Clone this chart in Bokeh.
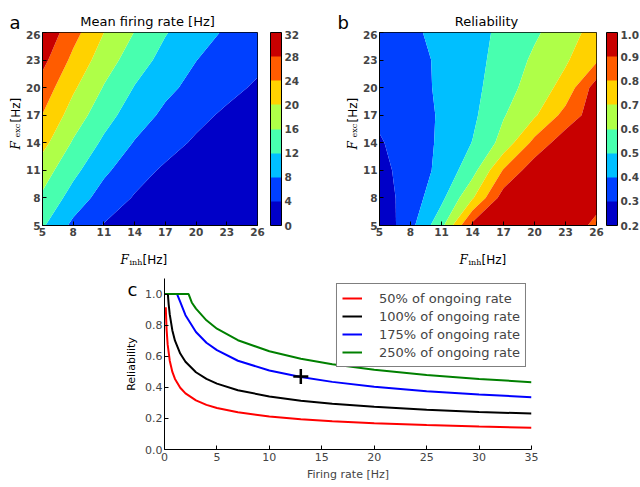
import numpy as np
from bokeh.plotting import figure
from bokeh.models import (ColorBar, LinearColorMapper, FixedTicker, PrintfTickFormatter,
                          Range1d)
from bokeh.core.properties import value
from bokeh.layouts import column, row
from bokeh.embed import file_html
from bokeh.resources import INLINE

# ---------------- data ----------------
f_inh = [5, 8, 11, 14, 17, 20, 23, 26]
f_exc = [5, 8, 11, 14, 17, 20, 23, 26]
grid_ticks = [5, 8, 11, 14, 17, 20, 23, 26]

rate_levels = [0, 4, 8, 12, 16, 20, 24, 28, 32]
rel_levels = [0.2, 0.3, 0.4, 0.5, 0.6, 0.7, 0.8, 0.9, 1.0]

jet8 = ["#0000C8", "#0040FF", "#00BFFF", "#48FFAF",
        "#AFFF48", "#FFD200", "#FF5C00", "#C80000"]

# rows: F_exc = 5 .. 26 ; columns: F_inh = 5 .. 26
rate_z = [
    [12.53, 7.03, 3.77, 2.91, 2.06, 1.20, 0.60, 0.20],
    [15.35, 10.33, 6.24, 3.69, 2.77, 1.85, 0.92, 0.30],
    [17.86, 13.08, 8.78, 5.52, 3.40, 2.20, 1.00, 0.30],
    [21.24, 15.57, 11.27, 7.76, 5.41, 3.47, 2.13, 0.80],
    [23.90, 18.20, 13.55, 9.95, 7.16, 5.05, 3.33, 2.00],
    [26.26, 20.60, 15.73, 11.80, 8.91, 6.82, 5.09, 3.45],
    [29.16, 23.00, 18.00, 13.90, 10.69, 8.06, 6.48, 4.93],
    [31.40, 25.40, 20.00, 15.88, 12.24, 9.76, 7.47, 5.47],
]

rel_z = [
    [0.22, 0.37, 0.571, 0.93, 0.97, 0.97, 0.95, 0.88],
    [0.25, 0.346, 0.476, 0.69, 0.95, 0.98, 0.98, 0.93],
    [0.27, 0.344, 0.426, 0.562, 0.808, 0.96, 0.98, 0.97],
    [0.29, 0.352, 0.415, 0.503, 0.635, 0.83, 0.96, 0.98],
    [0.32, 0.36, 0.41, 0.48, 0.593, 0.687, 0.835, 0.96],
    [0.33, 0.37, 0.413, 0.472, 0.558, 0.646, 0.734, 0.95],
    [0.33, 0.37, 0.415, 0.469, 0.536, 0.618, 0.688, 0.784],
    [0.33, 0.38, 0.43, 0.47, 0.52, 0.585, 0.656, 0.74],
]

# panel c curves: firing rate [Hz] vs reliability
red_x = [0.12, 0.2, 0.3, 0.5, 0.75, 1, 1.5, 2, 3, 4, 5, 7, 10, 13, 16, 20, 25, 30, 35]
red_y = [0.915, 0.772, 0.676, 0.571, 0.499, 0.454, 0.397, 0.361, 0.316, 0.287, 0.267,
         0.239, 0.212, 0.195, 0.182, 0.169, 0.157, 0.148, 0.140]

black_x = [0, 0.32, 0.4, 0.5, 0.75, 1, 1.5, 2, 3, 4, 5, 7, 10, 13, 16, 20, 25, 30, 35]
black_y = [1.0, 1.0, 0.932, 0.869, 0.766, 0.700, 0.617, 0.564, 0.497, 0.454, 0.424,
           0.381, 0.341, 0.314, 0.295, 0.275, 0.256, 0.242, 0.231]

blue_x = [0, 1.2, 1.5, 2, 3, 4, 5, 7, 10, 13, 16, 20, 25, 30, 35]
blue_y = [1.0, 1.0, 0.950, 0.864, 0.756, 0.687, 0.639, 0.571, 0.508, 0.466, 0.435,
          0.404, 0.375, 0.354, 0.336]

green_x = [0, 2.3, 2.6, 3, 4, 5, 7, 10, 13, 16, 20, 25, 30, 35]
green_y = [1.0, 1.0, 0.946, 0.906, 0.831, 0.777, 0.703, 0.632, 0.584, 0.548, 0.513,
           0.480, 0.454, 0.433]

series_labels = ["50% of ongoing rate", "100% of ongoing rate",
                 "175% of ongoing rate", "250% of ongoing rate"]
series_colors = ["#FF0000", "#000000", "#0000FF", "#008000"]

marker_x = [13.0]
marker_y = [0.47]

rate_x_ticks = [0, 5, 10, 15, 20, 25, 30, 35]
rel_y_ticks = [0.0, 0.2, 0.4, 0.6, 0.8, 1.0]

SANS = "DejaVu Sans"
SERIF = "DejaVu Serif"
LETTER = "DejaVu Sans"


# ---------------- helpers ----------------
def text_strip(w, h):
    """A bare figure whose frame is the whole canvas, used to hold texts."""
    p = figure(width=w, height=h, x_range=Range1d(0, w), y_range=Range1d(h, 0),
               x_axis_type=None, y_axis_type=None, output_backend="svg",
               toolbar_location=None, title=None, min_border=0,
               min_border_left=0, min_border_right=0,
               min_border_top=0, min_border_bottom=0, frame_align=False)
    p.outline_line_color = None
    return p


def put(p, x, y, text, size, font=SANS, style="normal", angle=0.0,
        align="left", baseline="alphabetic"):
    p.text(x=[x], y=[y], text=[text], text_font=value(font),
           text_font_size=value(size), text_font_style=value(style),
           angle=angle, text_align=value(align), text_baseline=value(baseline),
           text_color="black")


def style_axis(ax, bold=True, size="10.5px"):
    ax.major_tick_in = 4
    ax.major_tick_out = 0
    ax.minor_tick_line_color = None
    ax.major_label_text_font = SANS
    ax.major_label_text_font_size = size
    ax.major_label_text_font_style = "bold" if bold else "normal"
    ax.major_label_standoff = 2
    ax.axis_line_color = "black"


ROW_H = 214


def contour_panel(z, levels, fmt, left, right, fw, cb_gap):
    top, bottom = 2, 19
    W = left + fw + right
    fh = ROW_H - top - bottom
    p = figure(width=W, height=ROW_H, x_range=Range1d(5, 26), y_range=Range1d(5, 26),
               output_backend="svg", toolbar_location=None, title=None,
               min_border_left=left, min_border_right=right,
               min_border_top=top, min_border_bottom=bottom, frame_align=False)
    p.contour(x=f_inh, y=f_exc, z=np.array(z), levels=levels,
              fill_color=jet8, line_color=None)
    p.grid.visible = False
    for ax in (p.xaxis, p.yaxis):
        ax.ticker = FixedTicker(ticks=grid_ticks)
        style_axis(ax)
    p.outline_line_color = "black"
    p.outline_line_alpha = 1.0

    mapper = LinearColorMapper(palette=jet8, low=levels[0], high=levels[-1])
    cb = ColorBar(color_mapper=mapper, ticker=FixedTicker(ticks=levels),
                  formatter=PrintfTickFormatter(format=fmt),
                  location=(fw + cb_gap, 0), width=11, height=fh,
                  padding=0, margin=0, label_standoff=3,
                  major_tick_line_color=None, bar_line_color="black",
                  border_line_color=None, background_fill_color=None,
                  major_label_text_font=SANS, major_label_text_font_size="10.5px",
                  major_label_text_font_style="bold")
    p.add_layout(cb)
    return p


def y_label(strip, bx):
    a = np.pi / 2
    put(strip, bx, 119, "F", "12px", font=SERIF, style="italic", angle=a)
    put(strip, bx + 2, 107, "exc", "8px", font=SERIF, angle=a)
    put(strip, bx, 92, "[Hz]", "12px", angle=a)


# ---------------- top header (titles and letters) ----------------
header = text_strip(639, 30)
put(header, 9, 22, "a", "18px", font=LETTER)
put(header, 147, 21, "Mean firing rate [Hz]", "13px", align="center")
put(header, 337, 22, "b", "18px", font=LETTER)
put(header, 486, 21, "Reliability", "13px", align="center")

# ---------------- contour row ----------------
yl_a = text_strip(22, ROW_H)
y_label(yl_a, 15)
pa = contour_panel(rate_z, rate_levels, "%d", left=19, right=63, fw=216, cb_gap=12)

yl_b = text_strip(39, ROW_H)
y_label(yl_b, 32)
pb = contour_panel(rel_z, rel_levels, "%.1f", left=18, right=43, fw=219, cb_gap=8)

# ---------------- x labels under the contour panels ----------------
xlab = text_strip(639, 23)
for cx in (147, 486):
    put(xlab, cx - 27, 15.5, "F", "12px", font=SERIF, style="italic")
    put(xlab, cx - 18, 17.5, "inh", "8px", font=SERIF)
    put(xlab, cx - 5, 15.5, "[Hz]", "12px")

# ---------------- panel c ----------------
c_left = text_strip(140, 219)
put(c_left, 127, 22, "c", "18px", font=LETTER)
put(c_left, 131, 96.5, "Reliability", "11px", angle=np.pi / 2, align="center")

pc = figure(width=499, height=219, x_range=Range1d(0, 35), y_range=Range1d(0, 1.1),
            output_backend="svg", toolbar_location=None, title=None,
            min_border_left=24, min_border_right=108,
            min_border_top=11, min_border_bottom=37, frame_align=False)
pc.grid.visible = False
pc.outline_line_color = None

xs = [red_x, black_x, blue_x, green_x]
ys = [red_y, black_y, blue_y, green_y]
for sx, sy, c, l in zip(xs, ys, series_colors, series_labels):
    pc.line(sx, sy, line_color=c, line_width=2, legend_label=l)

pc.scatter(marker_x, marker_y, marker="cross", size=15, line_width=2.5,
           line_color="black")

pc.xaxis.ticker = FixedTicker(ticks=rate_x_ticks)
pc.yaxis.ticker = FixedTicker(ticks=rel_y_ticks)
pc.yaxis.formatter = PrintfTickFormatter(format="%.1f")
for ax in (pc.xaxis, pc.yaxis):
    style_axis(ax, bold=False, size="11px")
    ax.axis_label_text_font = SANS
    ax.axis_label_text_font_size = "11px"
    ax.axis_label_text_font_style = "normal"
pc.xaxis.major_label_standoff = 3
pc.xaxis.axis_label = "Firing rate [Hz]"
pc.xaxis.axis_label_standoff = 4

lg = pc.legend[0]
lg.location = "top_right"
lg.margin = 5
lg.padding = 5
lg.spacing = 0
lg.label_height = 18
lg.glyph_height = 18
lg.glyph_width = 20
lg.label_standoff = 17
lg.label_text_font = SANS
lg.label_text_font_size = "13px"
lg.border_line_color = "black"
lg.border_line_width = 1
lg.background_fill_alpha = 1.0

layout = column(header, row(yl_a, pa, yl_b, pb), xlab, row(c_left, pc))
open("out.html", "w").write(file_html(layout, INLINE))
